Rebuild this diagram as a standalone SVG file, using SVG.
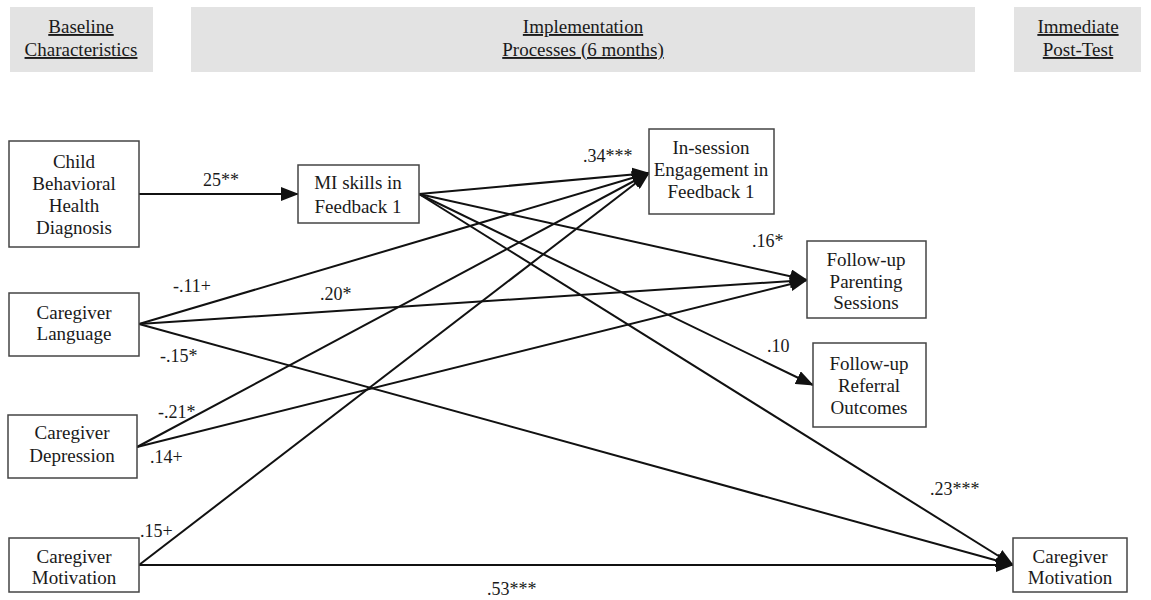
<svg xmlns="http://www.w3.org/2000/svg" width="1151" height="600" viewBox="0 0 1151 600">
<style>
text{font-family:"Liberation Serif","Times New Roman",serif;fill:#1a1a1a}
.hdr{fill:#e3e3e3;stroke:none}
.ht{font-size:19px;text-anchor:middle;text-decoration:underline}
.box{fill:#fff;stroke:#444;stroke-width:1.5}
.nt{font-size:19px;text-anchor:middle}
.lbl{font-size:18px}
.edge{stroke:#111;stroke-width:2;fill:none;marker-end:url(#ah)}
</style>
<defs>
<marker id="ah" markerUnits="userSpaceOnUse" markerWidth="18" markerHeight="14" viewBox="0 0 18 14" refX="17" refY="7" orient="auto">
<path d="M0,0 L18,7 L0,14 Z" fill="#111"/>
</marker>
</defs>
<rect width="1151" height="600" fill="#fff"/>
<g id="headers">
<rect class="hdr" x="10" y="7" width="143" height="65"/>
<text class="ht" x="81" y="33">Baseline</text>
<text class="ht" x="81" y="56">Characteristics</text>
<rect class="hdr" x="191" y="7" width="784" height="65"/>
<text class="ht" x="583" y="33">Implementation</text>
<text class="ht" x="583" y="56">Processes (6 months)</text>
<rect class="hdr" x="1014" y="7" width="127" height="65"/>
<text class="ht" x="1078" y="33">Immediate</text>
<text class="ht" x="1078" y="56">Post-Test</text>
</g>
<g id="connectors">
<line class="edge" x1="139" y1="194" x2="298" y2="194"/>
<line class="edge" x1="419" y1="194" x2="649" y2="173"/>
<line class="edge" x1="419" y1="194" x2="807" y2="280"/>
<line class="edge" x1="419" y1="194" x2="813" y2="385"/>
<line class="edge" x1="419" y1="194" x2="1013" y2="565"/>
<line class="edge" x1="139" y1="324" x2="649" y2="173"/>
<line class="edge" x1="139" y1="324" x2="807" y2="280"/>
<line class="edge" x1="139" y1="324" x2="1013" y2="565"/>
<line class="edge" x1="137" y1="447" x2="649" y2="173"/>
<line class="edge" x1="137" y1="447" x2="807" y2="280"/>
<line class="edge" x1="139" y1="565" x2="649" y2="173"/>
<line class="edge" x1="139" y1="565" x2="1013" y2="565"/>
</g>
<g id="labels">
<text class="lbl" x="203" y="186">25**</text>
<text class="lbl" x="583" y="162">.34***</text>
<text class="lbl" x="173" y="292">-.11+</text>
<text class="lbl" x="320" y="300">.20*</text>
<text class="lbl" x="160" y="362">-.15*</text>
<text class="lbl" x="158" y="418">-.21*</text>
<text class="lbl" x="150" y="463">.14+</text>
<text class="lbl" x="140" y="537">.15+</text>
<text class="lbl" x="752" y="247">.16*</text>
<text class="lbl" x="767" y="352">.10</text>
<text class="lbl" x="930" y="495">.23***</text>
<text class="lbl" x="487" y="595">.53***</text>
</g>
<g id="child">
<rect class="box" x="9" y="141" width="130" height="106"/>
<text class="nt" x="74" y="168">Child</text>
<text class="nt" x="74" y="190">Behavioral</text>
<text class="nt" x="74" y="212">Health</text>
<text class="nt" x="74" y="234">Diagnosis</text>
</g>
<g id="language">
<rect class="box" x="9" y="293" width="130" height="63"/>
<text class="nt" x="74" y="319">Caregiver</text>
<text class="nt" x="74" y="340">Language</text>
</g>
<g id="depression">
<rect class="box" x="8" y="415" width="129" height="63"/>
<text class="nt" x="72" y="439">Caregiver</text>
<text class="nt" x="72" y="462">Depression</text>
</g>
<g id="motivation-baseline">
<rect class="box" x="9" y="538" width="130" height="54"/>
<text class="nt" x="74" y="563">Caregiver</text>
<text class="nt" x="74" y="584">Motivation</text>
</g>
<g id="mi-skills">
<rect class="box" x="298" y="165" width="121" height="58"/>
<text class="nt" x="358" y="189">MI skills in</text>
<text class="nt" x="358" y="213">Feedback 1</text>
</g>
<g id="engagement">
<rect class="box" x="649" y="129" width="125" height="85"/>
<text class="nt" x="711" y="154">In-session</text>
<text class="nt" x="711" y="176">Engagement in</text>
<text class="nt" x="711" y="198">Feedback 1</text>
</g>
<g id="parenting">
<rect class="box" x="807" y="241" width="119" height="77"/>
<text class="nt" x="866" y="266">Follow-up</text>
<text class="nt" x="866" y="288">Parenting</text>
<text class="nt" x="866" y="309">Sessions</text>
</g>
<g id="referral">
<rect class="box" x="813" y="343" width="113" height="84"/>
<text class="nt" x="869" y="370">Follow-up</text>
<text class="nt" x="869" y="392">Referral</text>
<text class="nt" x="869" y="414">Outcomes</text>
</g>
<g id="motivation-post">
<rect class="box" x="1013" y="538" width="114" height="54"/>
<text class="nt" x="1070" y="563">Caregiver</text>
<text class="nt" x="1070" y="584">Motivation</text>
</g>
</svg>
